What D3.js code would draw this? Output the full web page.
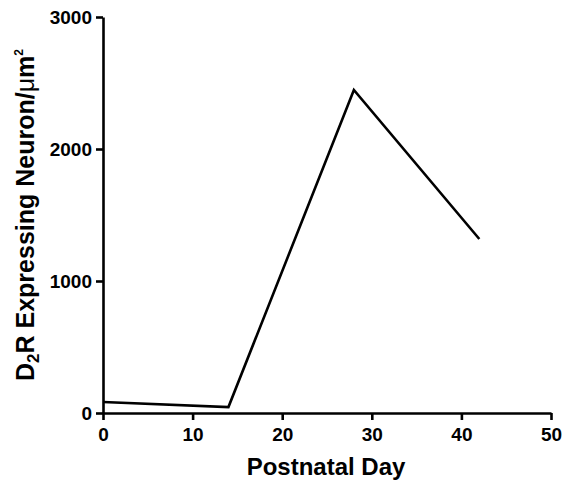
<!DOCTYPE html>
<html>
<head>
<meta charset="utf-8">
<script src="https://cdn.jsdelivr.net/npm/d3@7"></script>
<style>
  body { margin: 0; background: #fff; }
  text { font-family: "Liberation Sans", Arial, sans-serif; font-weight: bold; fill: #000; }
</style>
</head>
<body>
<div id="chart"></div>
<script>
// postnatal day vs D2R neuron density
const days = [0, 14, 28, 42];
const density = [83, 45, 2447, 1318];
const xTicks = [0, 10, 20, 30, 40, 50];
const yTicks = [0, 1000, 2000, 3000];

const width = 563, height = 483;
const margin = { left: 103, right: 12, top: 17, bottom: 70 };

const svg = d3.select("#chart")
    .append("svg")
    .attr("width", width)
    .attr("height", height);

const x = d3.scaleLinear().domain([0, 50]).range([margin.left, 551]);
const y = d3.scaleLinear().domain([0, 3000]).range([413, margin.top]);

// x axis
const xAxis = svg.append("g")
    .attr("transform", "translate(0,413)")
    .call(d3.axisBottom(x).tickValues(xTicks).tickFormat(d3.format("d"))
        .tickSize(7).tickPadding(8).tickSizeOuter(0));

// y axis
const yAxis = svg.append("g")
    .attr("transform", `translate(${margin.left},0)`)
    .call(d3.axisLeft(y).tickValues(yTicks).tickFormat(d3.format("d"))
        .tickSize(7).tickPadding(4).tickSizeOuter(0));

[xAxis, yAxis].forEach(g => {
    g.attr("font-size", null).attr("font-family", null);
    g.select(".domain").attr("stroke", "#000").attr("stroke-width", 2.6);
    g.selectAll(".tick line").attr("stroke", "#000").attr("stroke-width", 2.6);
    g.selectAll(".tick text")
        .style("font-size", "19px")
        .style("font-weight", "bold")
        .style("fill", "#000");
});
yAxis.selectAll(".tick text").attr("dy", "0.36em");

// data line
const line = d3.line()
    .x((d, i) => x(days[i]))
    .y(d => y(d));

svg.append("path")
    .datum(density)
    .attr("fill", "none")
    .attr("stroke", "#000")
    .attr("stroke-width", 2.6)
    .attr("stroke-linejoin", "miter")
    .attr("d", line);

// axis titles
svg.append("text")
    .attr("x", 326)
    .attr("y", 475)
    .attr("text-anchor", "middle")
    .style("font-size", "24px")
    .text("Postnatal Day");

const yTitle = svg.append("text")
    .attr("transform", "translate(34,215) rotate(-90)")
    .attr("text-anchor", "middle")
    .style("font-size", "25px");
yTitle.append("tspan").text("D");
yTitle.append("tspan").style("font-size", "17px").attr("dy", "5").text("2");
yTitle.append("tspan").attr("dy", "-5").text("R Expressing Neuron/");
yTitle.append("tspan").style("font-weight", "normal").text("μ");
yTitle.append("tspan").text("m");
yTitle.append("tspan").style("font-size", "12px").attr("dy", "-11").text("2");
</script>
</body>
</html>
